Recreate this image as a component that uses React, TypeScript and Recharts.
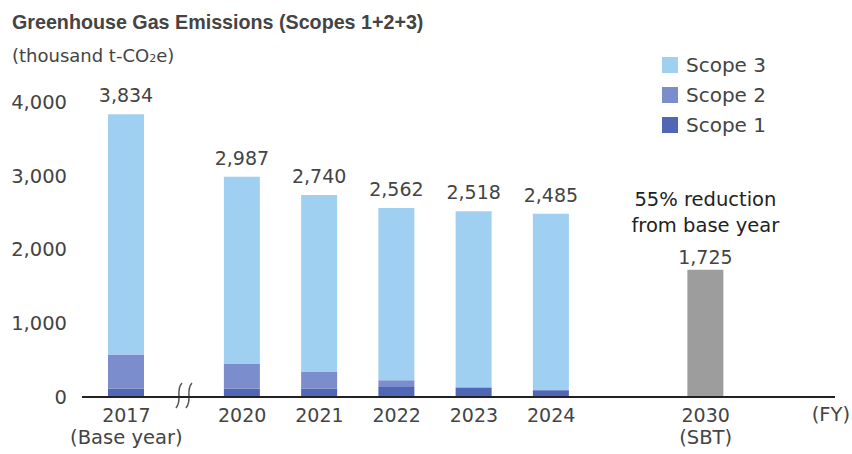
import { BarChart, Bar, XAxis, YAxis, LabelList, Legend, ReferenceLine } from 'recharts';

// fiscal years shown on the axis, with the second line under some of them
const years = ['2017', '2020', '2021', '2022', '2023', '2024', '2030'];
const yearNotes = ['(Base year)', '', '', '', '', '', '(SBT)'];
// empty half-slots placed before each year (axis break after 2017, gap before 2030)
const gapsBefore = [0, 2, 1, 1, 1, 1, 3];

// thousand t-CO2e
const scope1 = [114, 114, 114, 136, 128, 91, null];
const scope2 = [461, 339, 225, 90, 3, 3, null];
const scope3 = [3259, 2534, 2401, 2336, 2387, 2391, null];
const totals = [3834, 2987, 2740, 2562, 2518, 2485, null];
const sbtTarget = [null, null, null, null, null, null, 1725];

const yTicks = [0, 1000, 2000, 3000, 4000];

const font = '"DejaVu Sans", sans-serif';
const textColor = '#444';

const rows: any[] = [];
years.forEach((year, i) => {
  for (let k = 0; k < gapsBefore[i]; k++) rows.push({ key: `gap${rows.length}` });
  rows.push({
    key: year,
    note: yearNotes[i],
    scope1: scope1[i],
    scope2: scope2[i],
    scope3: scope3[i],
    total: totals[i],
    target: sbtTarget[i],
  });
});

const fmt = (v: number) => v.toLocaleString('en-US');

const YearTick = (props: any) => {
  const { x, y, payload } = props;
  const row = rows.find((r) => r.key === payload.value);
  if (!row || String(payload.value).startsWith('gap')) return null;
  return (
    <g>
      <text x={x} y={y + 25} textAnchor="middle" fill={textColor} fontSize={19} fontFamily={font}>
        {payload.value}
      </text>
      {row.note && (
        <text x={x} y={y + 47} textAnchor="middle" fill={textColor} fontSize={19.5} fontFamily={font}>
          {row.note}
        </text>
      )}
    </g>
  );
};

const box = (p: any) => p.viewBox ?? p;

const TotalLabel = (p: any) => {
  if (p.value == null) return null;
  const { x, y, width } = box(p);
  return (
    <text x={x + width / 2} y={y - 12} textAnchor="middle" fill={textColor} fontSize={19} fontFamily={font}>
      {fmt(p.value)}
    </text>
  );
};

const TargetLabel = (p: any) => {
  if (p.value == null) return null;
  const { x, y, width } = box(p);
  const cx = x + width / 2;
  return (
    <g fontFamily={font} fontSize={19.5} textAnchor="middle">
      <text x={cx} y={y - 64} fill="#222">55% reduction</text>
      <text x={cx} y={y - 38} fill="#222">from base year</text>
      <text x={cx} y={y - 6} fill={textColor} fontSize={19}>{fmt(p.value)}</text>
    </g>
  );
};

// the "≀≀" mark where the axis skips 2018–2019
const AxisBreak = (p: any) => {
  const cx = p.x1 + 19;
  const y = Math.max(p.y1, p.y2);
  const wave = (x: number) => `M${x + 3},${y - 14} C${x - 4},${y - 6} ${x + 4},${y + 3} ${x - 3},${y + 11}`;
  return (
    <g>
      <rect x={cx - 5} y={y - 3} width={10} height={6} fill="#fff" />
      <path d={wave(cx - 5)} stroke="#555" strokeWidth={1.5} fill="none" />
      <path d={wave(cx + 5)} stroke="#555" strokeWidth={1.5} fill="none" />
    </g>
  );
};

const LegendBox = (props: any) => {
  const items = (props.payload || []).filter((e: any) => e.type !== 'none').slice().reverse();
  return (
    <div style={{ fontFamily: font, fontSize: 20, color: textColor }}>
      {items.map((e: any) => (
        <div key={e.value} style={{ display: 'flex', alignItems: 'center', height: 30 }}>
          <span style={{ width: 16, height: 16, background: e.color, marginRight: 8, display: 'inline-block' }} />
          {e.value}
        </div>
      ))}
    </div>
  );
};

export default function App() {
  return (
    <div style={{ position: 'absolute', left: 0, top: 0, width: 852, height: 454, background: '#fff' }}>
      <div
        style={{
          position: 'absolute', left: 12, top: 12, fontFamily: '"Liberation Sans", Arial, sans-serif',
          fontWeight: 'bold', fontSize: 19.7, lineHeight: '20px', color: '#444', whiteSpace: 'nowrap',
        }}
      >
        Greenhouse Gas Emissions (Scopes 1+2+3)
      </div>
      <div
        style={{
          position: 'absolute', left: 12, top: 46, fontFamily: font, fontSize: 18,
          lineHeight: '20px', color: textColor, whiteSpace: 'nowrap',
        }}
      >
        (thousand t-CO<span style={{ fontSize: 11 }}>2</span>e)
      </div>
      <BarChart width={852} height={454} data={rows} margin={{ top: 102, right: 17, bottom: 7, left: 0 }}>
        <XAxis
          dataKey="key"
          interval={0}
          tick={<YearTick />}
          tickLine={false}
          tickSize={0}
          tickMargin={0}
          height={50}
          axisLine={{ stroke: '#222', strokeWidth: 2 }}
          padding={{ left: 25, right: 110 }}
          label={{
            content: (p: any) => {
              const vb = p.viewBox;
              return (
                <text x={vb.x + vb.width + 15} y={vb.y + 24} textAnchor="end" fill={textColor} fontSize={19.5} fontFamily={font}>
                  (FY)
                </text>
              );
            },
          }}
        />
        <YAxis
          width={82}
          domain={[0, 4000]}
          ticks={yTicks}
          axisLine={false}
          tickLine={false}
          tickSize={0}
          tickMargin={15}
          tickFormatter={fmt}
          tick={{ fill: textColor, fontSize: 19.5, fontFamily: font }}
        />
        <Legend
          layout="horizontal"
          verticalAlign="middle"
          align="center"
          wrapperStyle={{ left: 662, top: 50, width: 170 }}
          content={<LegendBox />}
        />
        <Bar dataKey="scope1" name="Scope 1" stackId="a" fill="#4f67b5" barSize={36} isAnimationActive={false} />
        <Bar dataKey="scope2" name="Scope 2" stackId="a" fill="#7b8dcc" barSize={36} isAnimationActive={false} />
        <Bar dataKey="scope3" name="Scope 3" stackId="a" fill="#9fd0f1" barSize={36} isAnimationActive={false}>
          <LabelList dataKey="total" content={<TotalLabel />} />
        </Bar>
        <Bar dataKey="target" name="SBT" legendType="none" stackId="a" fill="#9d9d9d" barSize={36} isAnimationActive={false}>
          <LabelList dataKey="target" content={<TargetLabel />} />
        </Bar>
        <ReferenceLine x="gap1" stroke="none" shape={<AxisBreak />} />
      </BarChart>
    </div>
  );
}
